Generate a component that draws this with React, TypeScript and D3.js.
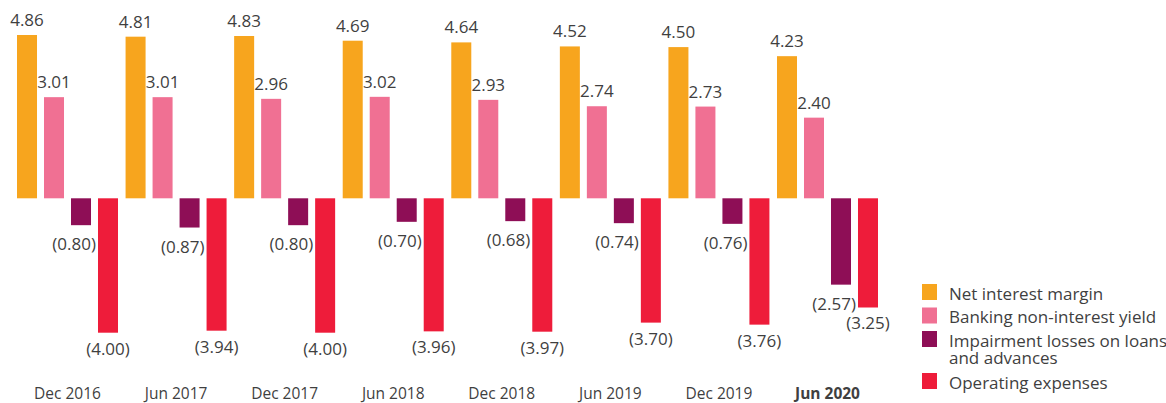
import React from "react";
import * as d3 from "d3";

const categories = ["Dec 2016", "Jun 2017", "Dec 2017", "Jun 2018", "Dec 2018", "Jun 2019", "Dec 2019", "Jun 2020"];
const seriesNames = ["Net interest margin", "Banking non-interest yield", "Impairment losses on loans and advances", "Operating expenses"];
const netInterestMargin = [4.86, 4.81, 4.83, 4.69, 4.64, 4.52, 4.50, 4.23];
const nonInterestYield = [3.01, 3.01, 2.96, 3.02, 2.93, 2.74, 2.73, 2.40];
const impairment = [-0.80, -0.87, -0.80, -0.70, -0.68, -0.74, -0.76, -2.57];
const operatingExpenses = [-4.00, -3.94, -4.00, -3.96, -3.97, -3.70, -3.76, -3.25];
const colors = ["#F7A51E", "#F07093", "#8E0E56", "#EE1C3A"];

const allSeries = [netInterestMargin, nonInterestYield, impairment, operatingExpenses];
const FONT = "'Open Sans', 'Noto Sans', sans-serif";
const TEXT = "#3f3f3f";

export default function App() {
  const x0 = d3.scaleBand<string>().domain(categories).range([17, 878]).paddingInner(0.0697).paddingOuter(0);
  const x1 = d3.scaleBand<string>().domain(seriesNames).range([0, x0.bandwidth()]).paddingInner(0.259).paddingOuter(0);
  const y = d3.scaleLinear().domain([-4, 4.86]).range([332.7, 35]);
  const fmt = (v: number) => (v < 0 ? `(${Math.abs(v).toFixed(2)})` : v.toFixed(2));

  const legendRows = [
    { name: "Net interest margin", lines: ["Net interest margin"], y: 284 },
    { name: "Banking non-interest yield", lines: ["Banking non-interest yield"], y: 307.5 },
    { name: "Impairment losses on loans and advances", lines: ["Impairment losses on loans", "and advances"], y: 331 },
    { name: "Operating expenses", lines: ["Operating expenses"], y: 373 },
  ];

  return (
    <svg width={1166} height={403} style={{ position: "absolute", left: 0, top: 0, background: "#fff" }} fontFamily={FONT}>
      {categories.map((cat, i) => (
        <g key={cat} transform={`translate(${x0(cat)},0)`}>
          {allSeries.map((s, j) => {
            const v = s[i];
            const bx = x1(seriesNames[j])!;
            const w = x1.bandwidth();
            const top = y(Math.max(0, v));
            const bottom = y(Math.min(0, v));
            let lx = bx + w / 2;
            let anchor = "middle";
            let ly = v >= 0 ? top - 9 : bottom + 22;
            if (j === 2) {
              lx = bx + w + 5;
              anchor = "end";
              ly = bottom + 25;
            }
            return (
              <g key={j}>
                <rect x={bx} y={top} width={w} height={bottom - top} fill={colors[j]} />
                <text x={lx} y={ly} textAnchor={anchor} fontSize={17} fill={TEXT}>{fmt(v)}</text>
              </g>
            );
          })}
          <text x={x0.bandwidth() / 2} y={399} textAnchor="middle" fontSize={15.5} fill={TEXT} fontWeight={i === categories.length - 1 ? 700 : 400}>{cat}</text>
        </g>
      ))}
      {legendRows.map((r, i) => (
        <g key={r.name}>
          <rect x={922} y={r.y} width={15} height={16} fill={colors[i]} />
          <text x={949} y={r.y + 15.5} fontSize={17} fill={TEXT}>
            {r.lines.map((ln, k) => (
              <tspan key={k} x={949} dy={k === 0 ? 0 : 17.5}>{ln}</tspan>
            ))}
          </text>
        </g>
      ))}
    </svg>
  );
}
